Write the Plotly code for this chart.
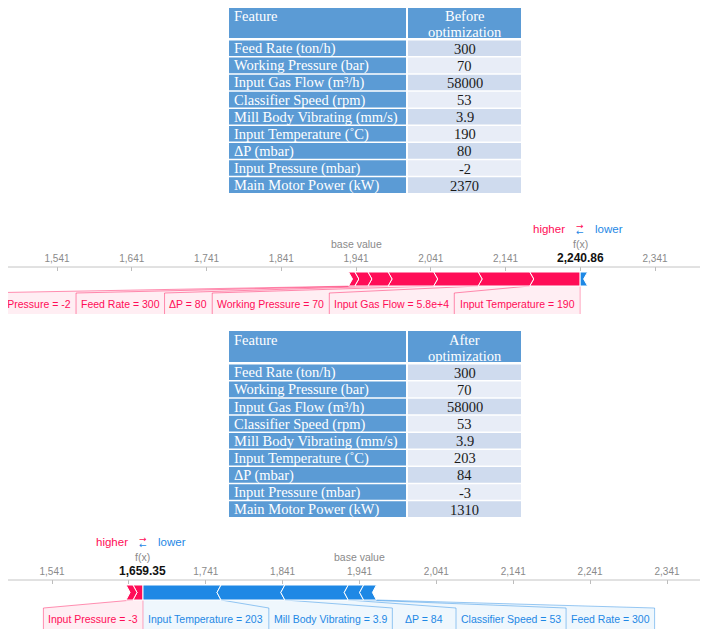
import plotly.graph_objects as go

# page is 708x629; the html body adds an 8px margin, so the figure is 8px smaller
PAGE_W, PAGE_H = 708, 629
OFF = 8
W, H = PAGE_W - OFF, PAGE_H - OFF

# ---- table data ----
features = ["Feed Rate (ton/h)", "Working Pressure (bar)", "Input Gas Flow (m³/h)",
            "Classifier Speed (rpm)", "Mill Body Vibrating (mm/s)", "Input Temperature (˚C)",
            "ΔP (mbar)", "Input Pressure (mbar)", "Main Motor Power (kW)"]
before_values = ["300", "70", "58000", "53", "3.9", "190", "80", "-2", "2370"]
after_values = ["300", "70", "58000", "53", "3.9", "203", "84", "-3", "1310"]

# ---- force plot data (contributions ordered from f(x) outward) ----
base_value = 1941.0
fx_before = 2240.86
fx_after = 1659.35

before_pos_names = ["Input Temperature = 190", "Input Gas Flow = 5.8e+4", "Working Pressure = 70",
                    "ΔP = 80", "Feed Rate = 300", "Input Pressure = -2", ""]
before_pos_vals = [67.5, 69.0, 59.5, 61.0, 27.0, 17.5, 8.36]
before_neg_names = [""]
before_neg_vals = [10.0]

after_pos_names = ["Input Pressure = -3", ""]
after_pos_vals = [13.0, 9.0]
after_neg_names = ["Input Temperature = 203", "Mill Body Vibrating = 3.9", "ΔP = 84",
                   "Classifier Speed = 53", "Feed Rate = 300"]
after_neg_vals = [101.5, 83.0, 82.5, 20.0, 16.65]

tick_offsets = [-400, -300, -200, -100, 0, 100, 200, 300, 400]

RED = "#ff0d57"
BLUE = "#1e88e5"
TBLUE = "#5b9bd5"
LIGHT1 = "#cfdbee"
LIGHT2 = "#e8edf7"
SANS = "Arial, Liberation Sans, sans-serif"
SERIF = "Times New Roman, Liberation Serif, serif"

ARIAL_W = {' ': 278, ',': 278, '-': 333, '.': 278, '+': 584, '=': 584, 'Δ': 668,
           'A': 667, 'B': 667, 'C': 722, 'D': 722, 'E': 667, 'F': 611, 'G': 778, 'I': 278,
           'M': 833, 'P': 667, 'R': 722, 'S': 667, 'T': 611, 'V': 667, 'W': 944,
           'a': 556, 'b': 556, 'c': 500, 'd': 556, 'e': 556, 'f': 278, 'g': 556, 'h': 556,
           'i': 222, 'k': 500, 'l': 222, 'm': 833, 'n': 556, 'o': 556, 'p': 556, 'r': 333,
           's': 500, 't': 278, 'u': 556, 'v': 500, 'w': 722, 'y': 500}
LABEL_SIZE = 10.5


def text_px(s, size=LABEL_SIZE):
    return sum(ARIAL_W.get(c, 556) for c in s) * size / 1000.0


def qx(p):  # page pixel x -> paper
    return (p - OFF) / W


def py(p):  # page pixel y -> paper
    return 1 - (p - OFF) / H


fig = go.Figure()


def add_table(values, head_right, top):
    c1l, c1r, c2l, c2r = 229, 406, 408, 521
    head_b = top + 31
    fig.add_shape(type="rect", xref="paper", yref="paper", x0=qx(c1l), x1=qx(c1r),
                  y0=py(head_b), y1=py(top), fillcolor=TBLUE, line=dict(width=0))
    fig.add_shape(type="rect", xref="paper", yref="paper", x0=qx(c2l), x1=qx(c2r),
                  y0=py(head_b), y1=py(top), fillcolor=TBLUE, line=dict(width=0))
    fig.add_annotation(x=qx(232), y=py(top + 9), xref="paper", yref="paper", text="Feature",
                       showarrow=False, xanchor="left", yanchor="middle",
                       font=dict(family=SERIF, size=14.5, color="white"))
    for j, line in enumerate([head_right, "optimization"]):
        fig.add_annotation(x=qx(464.5), y=py(top + 9 + 16 * j), xref="paper", yref="paper",
                           text=line, showarrow=False, xanchor="center", yanchor="middle",
                           font=dict(family=SERIF, size=14.5, color="white"))
    pitch = 17.1
    for i, (feat, val) in enumerate(zip(features, values)):
        t = head_b + 2.5 + pitch * i
        b = t + pitch - 1.5
        fig.add_shape(type="rect", xref="paper", yref="paper", x0=qx(c1l), x1=qx(c1r),
                      y0=py(b), y1=py(t), fillcolor=TBLUE, line=dict(width=0))
        fig.add_shape(type="rect", xref="paper", yref="paper", x0=qx(c2l), x1=qx(c2r),
                      y0=py(b), y1=py(t), fillcolor=LIGHT1 if i % 2 == 0 else LIGHT2,
                      line=dict(width=0))
        ym = py((t + b) / 2 + 0.5)
        fig.add_annotation(x=qx(232), y=ym, xref="paper", yref="paper", text=feat,
                           showarrow=False, xanchor="left", yanchor="middle",
                           font=dict(family=SERIF, size=14.5, color="white"))
        fig.add_annotation(x=qx(464.5), y=ym, xref="paper", yref="paper", text=val,
                           showarrow=False, xanchor="center", yanchor="middle",
                           font=dict(family=SERIF, size=14.5, color="#1a1a1a"))


def add_force(k, fx, pos_names, pos_vals, neg_names, neg_vals, base_px, scale, y0,
              lab_dy=0, wide=()):
    xa = "x" if k == 1 else "x2"
    ya = "y" if k == 1 else "y2"

    def px(v):
        return base_px + (v - base_value) * scale

    def dx(p):
        return base_value + (p - base_px) / scale

    def label_w(name):
        return text_px(name) + (26 if name in wide else 10)

    bar_t, bar_b = y0 + 5, y0 + 19 + lab_dy / 2
    lab_t, lab_b = y0 + 26 + lab_dy, y0 + 47 + lab_dy
    mid = (bar_t + bar_b) / 2
    tip = 4 / scale

    axis_name = "xaxis" if k == 1 else "xaxis2"
    yaxis_name = "yaxis" if k == 1 else "yaxis2"
    ticks = [base_value + o for o in tick_offsets]
    fig.update_layout(**{
        axis_name: dict(domain=[0, 1], range=[dx(OFF), dx(PAGE_W)], anchor=ya, side="top",
                        tickvals=ticks,
                        ticktext=["" if abs(t - fx) < 40 else f"{t:,.0f}" for t in ticks],
                        ticks="inside", ticklen=4, tickcolor="#bdbdbd", tickwidth=1,
                        tickfont=dict(family=SANS, size=10, color="#8a8a8a"),
                        showgrid=False, zeroline=False, showline=False, fixedrange=True,
                        ticklabelstandoff=2),
        yaxis_name: dict(domain=[max(0.0, py(y0 + 48)), py(y0)], range=[0, 1], visible=False,
                         fixedrange=True),
    })
    # axis line
    fig.add_shape(type="line", xref="paper", yref="paper", x0=qx(8), x1=qx(703),
                  y0=py(y0), y1=py(y0), line=dict(color="#c4c4c4", width=1))

    def path(pts):
        return "M " + " L ".join(f"{x},{y}" for x, y in pts) + " Z"

    def seg_shape(pts, color):
        fig.add_shape(type="path", xref=xa, yref="paper",
                      path=path([(x, py(y)) for x, y in pts]),
                      fillcolor=color, line=dict(color="white", width=1), layer="above")

    # positive (red) segments, right end at f(x)
    cum = 0.0
    prev_left = px(fx)
    for i, (name, v) in enumerate(zip(pos_names, pos_vals)):
        b = fx - cum
        a = b - v
        cum += v
        right_pts = [(b, bar_t), (b, bar_b)] if i == 0 else [(b, bar_t), (b + tip, mid), (b, bar_b)]
        seg_shape([(a, bar_t)] + right_pts + [(a, bar_b), (a + tip, mid)], RED)
        if name:
            w = label_w(name)
            c = px((a + b) / 2)
            r = min(prev_left, c + w / 2)
            l = r - w
            prev_left = l
            fig.add_shape(type="path", xref=xa, yref="paper", layer="below",
                          path=path([(a, py(bar_b)), (b, py(bar_b)), (dx(r), py(lab_t)),
                                     (dx(r), py(lab_b)), (dx(l), py(lab_b)), (dx(l), py(lab_t))]),
                          fillcolor="rgba(255,13,87,0.07)", line=dict(width=0))
            fig.add_shape(type="path", xref=xa, yref="paper", layer="below",
                          path=f"M {a},{py(bar_b)} L {dx(l)},{py(lab_t)} L {dx(l)},{py(lab_b)}",
                          line=dict(color="rgba(255,13,87,0.45)", width=1))
            fig.add_annotation(x=dx((l + r) / 2), y=py(lab_t + 11), xref=xa, yref="paper",
                               text=name, showarrow=False, xanchor="center", yanchor="middle",
                               font=dict(family=SANS, size=LABEL_SIZE, color=RED))

    # negative (blue) segments, left end at f(x)
    cum = 0.0
    prev_right = px(fx)
    for i, (name, v) in enumerate(zip(neg_names, neg_vals)):
        a = fx + cum
        b = a + v
        cum += v
        left_pts = [(a, bar_b), (a, bar_t)] if i == 0 else [(a, bar_b), (a - tip, mid), (a, bar_t)]
        seg_shape(left_pts + [(b, bar_t), (b - tip, mid), (b, bar_b)], BLUE)
        if name:
            w = label_w(name)
            c = px((a + b) / 2)
            l = max(prev_right, c - w / 2)
            r = l + w
            prev_right = r
            fig.add_shape(type="path", xref=xa, yref="paper", layer="below",
                          path=path([(a, py(bar_b)), (b, py(bar_b)), (dx(r), py(lab_t)),
                                     (dx(r), py(lab_b)), (dx(l), py(lab_b)), (dx(l), py(lab_t))]),
                          fillcolor="rgba(30,136,229,0.07)", line=dict(width=0))
            fig.add_shape(type="path", xref=xa, yref="paper", layer="below",
                          path=f"M {b},{py(bar_b)} L {dx(r)},{py(lab_t)} L {dx(r)},{py(lab_b)}",
                          line=dict(color="rgba(30,136,229,0.45)", width=1))
            fig.add_annotation(x=dx((l + r) / 2), y=py(lab_t + 11), xref=xa, yref="paper",
                               text=name, showarrow=False, xanchor="center", yanchor="middle",
                               font=dict(family=SANS, size=LABEL_SIZE, color=BLUE))

    # f(x) divider line below bar
    fig.add_shape(type="line", xref=xa, yref="paper", x0=fx, x1=fx, y0=py(bar_b), y1=py(lab_b),
                  line=dict(color="rgba(255,13,87,0.35)", width=1), layer="below")

    # texts above axis
    fig.add_annotation(x=base_value, y=py(y0 - 23), xref=xa, yref="paper", text="base value",
                       showarrow=False, xanchor="center", yanchor="middle",
                       font=dict(family=SANS, size=10.5, color="#8a8a8a"))
    fig.add_annotation(x=fx, y=py(y0 - 23), xref=xa, yref="paper", text="f(x)",
                       showarrow=False, xanchor="center", yanchor="middle",
                       font=dict(family=SANS, size=10.5, color="#8a8a8a"))
    fig.add_annotation(x=fx, y=py(y0 - 9), xref=xa, yref="paper", text=f"<b>{fx:,.2f}</b>",
                       showarrow=False, xanchor="center", yanchor="middle",
                       font=dict(family=SANS, size=12, color="#111111"))
    fig.add_annotation(x=fx, y=py(y0 - 38), xref=xa, yref="paper", text="higher",
                       showarrow=False, xanchor="right", yanchor="middle", xshift=-13,
                       font=dict(family=SANS, size=11.5, color=RED))
    fig.add_annotation(x=fx, y=py(y0 - 38), xref=xa, yref="paper", text="lower",
                       showarrow=False, xanchor="left", yanchor="middle", xshift=13,
                       font=dict(family=SANS, size=11.5, color=BLUE))
    fig.add_annotation(x=fx, y=py(y0 - 41), xref=xa, yref="paper", text="→",
                       showarrow=False, xanchor="center", yanchor="middle",
                       font=dict(family="DejaVu Sans", size=9, color=RED))
    fig.add_annotation(x=fx, y=py(y0 - 35), xref=xa, yref="paper", text="←",
                       showarrow=False, xanchor="center", yanchor="middle",
                       font=dict(family="DejaVu Sans", size=9, color=BLUE))


add_table(before_values, "Before", 7)
add_force(1, fx_before, before_pos_names, before_pos_vals, before_neg_names, before_neg_vals,
          356.0, 0.7475, 267)
add_table(after_values, "After", 331)
add_force(2, fx_after, after_pos_names, after_pos_vals, after_neg_names, after_neg_vals,
          359.5, 0.76875, 580, lab_dy=2, wide=("ΔP = 84",))

fig.update_layout(width=W, height=H, margin=dict(l=0, r=0, t=0, b=0),
                  paper_bgcolor="white", plot_bgcolor="white", showlegend=False)

fig.write_html("out.html")
